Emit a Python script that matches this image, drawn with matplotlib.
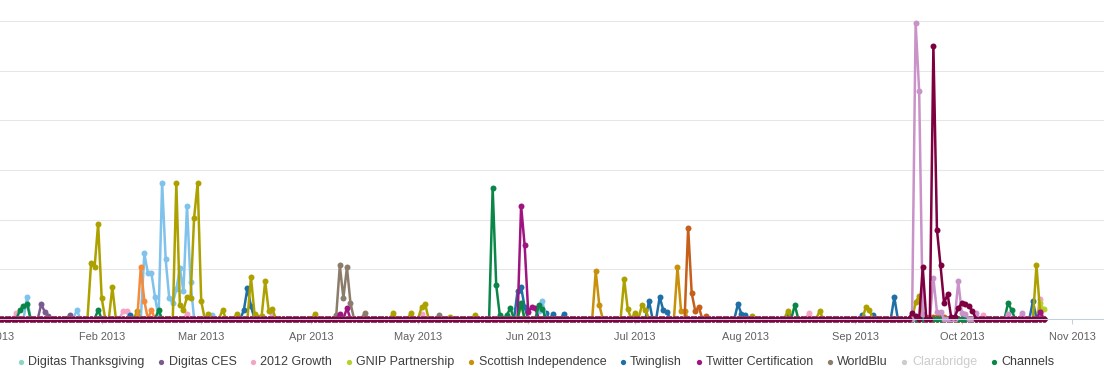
import numpy as np
import matplotlib
matplotlib.use("Agg")
import matplotlib.pyplot as plt
import matplotlib.transforms as mtransforms
from matplotlib.lines import Line2D

# 日次データ (2013-01-01 を 0 日目とする)、ゼロ以外の日だけ記録
n_days = 297
start = np.datetime64("2013-01-01")

lightblue_days = [10, 24, 43, 44, 45, 46, 47, 48, 49, 50, 51, 52, 53, 54, 55, 56, 62, 154, 155]
lightblue_vals = [22, 9, 66, 46, 46, 22, 2, 137, 60, 21, 16, 30, 51, 28, 114, 37, 4, 8, 18]

olive_days = [0, 28, 29, 30, 31, 34, 41, 52, 53, 54, 55, 56, 57, 58, 59, 61, 65, 69, 73, 74, 75, 76,
              77, 78, 79, 91, 113, 118, 121, 122, 129, 136, 178, 179, 181, 183, 184, 214, 224, 233,
              246, 247, 260, 261, 294, 295]
olive_vals = [2, 56, 52, 96, 21, 32, 8, 137, 14, 9, 22, 21, 102, 137, 18, 5, 9, 5, 42, 5, 2, 3,
              38, 8, 10, 5, 6, 6, 12, 15, 2, 4, 40, 10, 6, 14, 9, 3, 8, 8,
              12, 9, 17, 23, 54, 8]

orange_days = [42, 43, 45]
orange_vals = [52, 18, 9]

darkorange_days = [196, 197, 198, 199, 201, 263, 264, 265, 266, 267, 268]
darkorange_vals = [92, 26, 8, 12, 3, 2, 2, 2, 2, 2, 2]

lilac_days = [260, 261, 262, 265, 266, 267, 272, 273, 274, 277, 286, 290]
lilac_vals = [298, 229, 5, 41, 7, 7, 38, 6, 5, 6, 5, 6]

maroon_days = [259, 260, 262, 265, 266, 267, 268, 269, 270, 271, 272, 273, 274, 275, 276]
maroon_vals = [6, 3, 52, 275, 90, 54, 16, 25, 2, 2, 11, 16, 15, 13, 8]

# 凡例に見えている系列
legend_names = ["Digitas Thanksgiving", "Digitas CES", "2012 Growth", "GNIP Partnership",
                "Scottish Independence", "Twinglish", "Twitter Certification", "WorldBlu",
                "Clarabridge", "Channels"]
legend_colors = ["#8fd3c6", "#7b5b8f", "#f4a3c6", "#b7d12c", "#c9900c", "#1f6fa6",
                 "#a0147f", "#8c7c6c", "#cccccc", "#0a8648"]

thanksgiving_days = []
thanksgiving_vals = []
ces_days = [14, 15, 16, 22]
ces_vals = [15, 7, 3, 4]
growth_days = [7, 37, 38, 55, 79, 121, 230, 279, 295]
growth_vals = [6, 8, 8, 5, 4, 5, 6, 4, 20]
gnip_days = [149, 295, 296]
gnip_vals = [14, 16, 10]
scottish_days = [170, 171, 193, 194, 195]
scottish_vals = [48, 14, 52, 8, 8]
twinglish_days = [39, 71, 72, 73, 148, 149, 150, 156, 158, 161, 185, 188, 189, 190, 210, 211, 212,
                  224, 245, 248, 254, 293]
twinglish_vals = [4, 9, 31, 13, 28, 32, 12, 6, 5, 5, 18, 22, 9, 7, 15, 5, 4,
                  4, 4, 4, 22, 18]
twitter_days = [98, 100, 149, 150, 151, 152, 153, 295]
twitter_vals = [5, 11, 114, 74, 7, 12, 11, 7]
worldblu_days = [97, 98, 99, 100, 101, 105, 126]
worldblu_vals = [4, 54, 21, 52, 16, 6, 4]
channels_days = [8, 9, 10, 30, 47, 141, 142, 143, 145, 146, 149, 154, 155, 226, 286, 287]
channels_vals = [9, 13, 15, 9, 9, 132, 34, 4, 4, 11, 16, 14, 10, 14, 16, 9]


def daily(days, vals):
    arr = np.zeros(n_days)
    arr[days] = vals
    return arr


dates = start + np.arange(n_days)

plt.rcParams["font.family"] = ["Liberation Sans", "DejaVu Sans"]
fig = plt.figure(figsize=(11.04, 3.72), dpi=100)
ax = fig.add_axes([0, 53 / 372, 1, 319 / 372])

series = [
    (thanksgiving_days, thanksgiving_vals, legend_colors[0]),
    (ces_days, ces_vals, legend_colors[1]),
    (growth_days, growth_vals, legend_colors[2]),
    (gnip_days, gnip_vals, legend_colors[3]),
    (scottish_days, scottish_vals, legend_colors[4]),
    (twinglish_days, twinglish_vals, legend_colors[5]),
    (worldblu_days, worldblu_vals, legend_colors[7]),
    (lightblue_days, lightblue_vals, "#7fc2ec"),
    (olive_days, olive_vals, "#ada100"),
    (orange_days, orange_vals, "#f7893b"),
    (darkorange_days, darkorange_vals, "#c55f1b"),
    (twitter_days, twitter_vals, legend_colors[6]),
    (channels_days, channels_vals, legend_colors[9]),
    (lilac_days, lilac_vals, "#c993c9"),
    (maroon_days, maroon_vals, "#7e0040"),
]
for days, vals, col in series:
    ax.plot(dates, daily(days, vals), color=col, lw=1.8, marker="o", ms=4.3,
            mec=col, mfc=col, mew=0, clip_on=False, solid_joinstyle="round")

# グリッド
ax.set_yticks(np.arange(0, 301, 50))
ax.yaxis.grid(True, color="#e6e6e6", lw=0.75)
ax.set_axisbelow(True)
ax.tick_params(axis="y", left=False, labelleft=False)
for s in ["top", "left", "right"]:
    ax.spines[s].set_visible(False)
ax.spines["bottom"].set_color("#c0d0e0")
ax.spines["bottom"].set_linewidth(0.75)

# 月の目盛りとラベル
months = np.arange(np.datetime64("2013-01"), np.datetime64("2013-12"))
month_labels = ["Jan 2013", "Feb 2013", "Mar 2013", "Apr 2013", "May 2013", "Jun 2013",
                "Jul 2013", "Aug 2013", "Sep 2013", "Oct 2013", "Nov 2013"]
month_dates = months.astype("datetime64[D]")
ax.set_xticks(month_dates)
ax.set_xticklabels([])
ax.tick_params(axis="x", length=3.6, width=0.75, color="#c0d0e0", direction="out")

# set_xticks が表示範囲を広げるので後で設定
ax.set_xlim(np.datetime64("2013-01-03T09:20"), np.datetime64("2013-11-10T00:00"))
ax.set_ylim(0, 321)

lab_trans = mtransforms.offset_copy(ax.get_xaxis_transform(), fig=fig, y=-21.5, units="dots")
for d, lab in zip(month_dates, month_labels):
    ax.text(d, 0, lab, transform=lab_trans, ha="center", va="baseline",
            fontsize=7.9, color="#606060", clip_on=False)

# 凡例 (手描き)
renderer = fig.canvas.get_renderer()
x = 20.7
for name, col in zip(legend_names, legend_colors):
    fig.add_artist(Line2D([x / 1104], [9.7 / 372], marker="o", ms=3.8, mew=0,
                          color=col, transform=fig.transFigure))
    tcol = "#cccccc" if name == "Clarabridge" else "#3e3e3e"
    t = fig.text((x + 7.5) / 1104, 7 / 372, name, fontsize=9, color=tcol, va="baseline")
    bb = t.get_window_extent(renderer=renderer)
    x = bb.x1 + 16.5

fig.savefig("out.png", dpi=100)
